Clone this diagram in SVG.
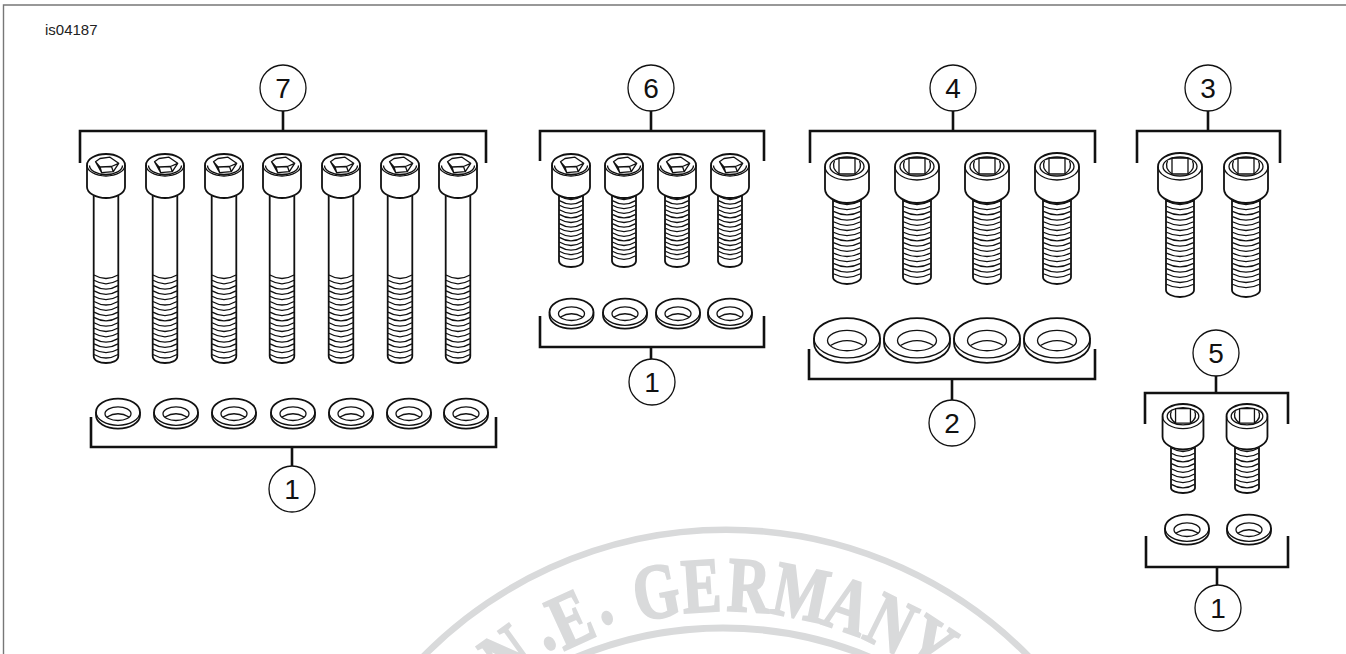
<svg xmlns="http://www.w3.org/2000/svg" xmlns:xlink="http://www.w3.org/1999/xlink" width="1346" height="654" viewBox="0 0 1346 654">
<style>
.ln{fill:#fff;stroke:#111;stroke-width:1.8;stroke-linejoin:round;vector-effect:non-scaling-stroke}
.th{fill:none;stroke:#111;stroke-width:1.25;vector-effect:non-scaling-stroke}
.in{fill:none;stroke:#111;stroke-width:1.3;stroke-linejoin:round;vector-effect:non-scaling-stroke}
.br{fill:none;stroke:#111;stroke-width:2.6}
.bub{fill:#fff;stroke:#111;stroke-width:1.3}
.num{font-family:"Liberation Sans",Arial,sans-serif;font-size:28px;fill:#111;text-anchor:middle}
.st{font-family:"Liberation Serif","Times New Roman",serif;font-weight:700;font-size:78px;fill:#d9dadb;stroke:#d9dadb;stroke-width:2.2;text-anchor:middle}
.ring{fill:none;stroke:#d9dadb}
</style>
<defs>
<g id="hx">
<path class="ln" d="M-19,11 A19,11 0 0 1 19,11 V33 C19,39 10,44 0,44 C-10,44 -19,39 -19,33 Z"/>
<path class="in" d="M-19,11 A19,11 0 0 0 19,11"/>
<path class="in" d="M-16.5,11.5 A16.5,9 0 0 0 16.5,11.5"/>
<path class="in" d="M-10.5,7.7 L-6,4.5 L4,3.2 L12.7,9.3 L7.3,17.7 L-4.3,18.7 Z M-10.5,7.7 L-6,13 L5.5,12.5 L12.7,9.3 M-6,13 L-4.3,18.7 M5.5,12.5 L7.3,17.7"/>
</g>
<g id="sq">
<path class="ln" d="M-22,13.5 A22,13.5 0 0 1 22,13.5 V36 C22,43 12,50 0,50 C-12,50 -22,43 -22,36 Z"/>
<path class="in" d="M-22,13.5 A22,13.5 0 0 0 22,13.5"/>
<path class="in" d="M-17,13.5 A17,9.5 0 0 1 17,13.5 A17,9.5 0 0 1 -17,13.5 Z"/>
<path class="in" d="M-12.5,8 Q-16,15 -8,21 M12.5,8 Q16,15 8,21"/>
<path class="in" d="M-8,5 L8,5 L8,21 L-8,21 Z"/>
</g>
<g id="ws">
<path class="ln" d="M-22,0 A22,13.3 0 0 1 22,0 V3.3 A22,13.3 0 0 1 -22,3.3 Z"/>
<path class="in" d="M-22,0 A22,13.3 0 0 0 22,0"/>
<path class="in" d="M-13,1.7 A13,6.8 0 0 1 13,1.7 A13,6.8 0 0 1 -13,1.7 Z"/>
<path class="in" d="M-11,5 Q0,-1.5 11,5"/>
</g>
<g id="b7">
<path class="ln" d="M-12.3,42 V202 C-12.3,207 -6,209 0,209 S12.3,207 12.3,202 V42"/>
<path class="th" d="M-12,121q12,7 24,0m-24,5.3q12,7 24,0m-24,5.3q12,7 24,0m-24,5.3q12,7 24,0m-24,5.3q12,7 24,0m-24,5.3q12,7 24,0m-24,5.3q12,7 24,0m-24,5.3q12,7 24,0m-24,5.3q12,7 24,0m-24,5.3q12,7 24,0m-24,5.3q12,7 24,0m-24,5.3q12,7 24,0m-24,5.3q12,7 24,0m-24,5.3q12,7 24,0m-24,5.3q12,7 24,0m-24,5.3q12,7 24,0"/>
<use href="#hx" xlink:href="#hx"/>
</g>
<g id="b6">
<path class="ln" d="M-12,42 V107 C-12,111 -6,113 0,113 S12,111 12,107 V42"/>
<path class="th" d="M-11.6,42q11.6,7 23.2,0m-23.2,4.6q11.6,7 23.2,0m-23.2,4.6q11.6,7 23.2,0m-23.2,4.6q11.6,7 23.2,0m-23.2,4.6q11.6,7 23.2,0m-23.2,4.6q11.6,7 23.2,0m-23.2,4.6q11.6,7 23.2,0m-23.2,4.6q11.6,7 23.2,0m-23.2,4.6q11.6,7 23.2,0m-23.2,4.6q11.6,7 23.2,0m-23.2,4.6q11.6,7 23.2,0m-23.2,4.6q11.6,7 23.2,0m-23.2,4.6q11.6,7 23.2,0m-23.2,4.6q11.6,7 23.2,0"/>
<use href="#hx" xlink:href="#hx"/>
</g>
<g id="b4">
<path class="ln" d="M-14,46 V124 C-14,128 -7,131 0,131 S14,128 14,124 V46"/>
<path class="th" d="M-13.6,48q13.6,7 27.2,0m-27.2,5.2q13.6,7 27.2,0m-27.2,5.2q13.6,7 27.2,0m-27.2,5.2q13.6,7 27.2,0m-27.2,5.2q13.6,7 27.2,0m-27.2,5.2q13.6,7 27.2,0m-27.2,5.2q13.6,7 27.2,0m-27.2,5.2q13.6,7 27.2,0m-27.2,5.2q13.6,7 27.2,0m-27.2,5.2q13.6,7 27.2,0m-27.2,5.2q13.6,7 27.2,0m-27.2,5.2q13.6,7 27.2,0m-27.2,5.2q13.6,7 27.2,0m-27.2,5.2q13.6,7 27.2,0m-27.2,5.2q13.6,7 27.2,0"/>
<use href="#sq" xlink:href="#sq"/>
</g>
<g id="b3">
<path class="ln" d="M-14,46 V137 C-14,141 -7,144 0,144 S14,141 14,137 V46"/>
<path class="th" d="M-13.6,48q13.6,7 27.2,0m-27.2,5.2q13.6,7 27.2,0m-27.2,5.2q13.6,7 27.2,0m-27.2,5.2q13.6,7 27.2,0m-27.2,5.2q13.6,7 27.2,0m-27.2,5.2q13.6,7 27.2,0m-27.2,5.2q13.6,7 27.2,0m-27.2,5.2q13.6,7 27.2,0m-27.2,5.2q13.6,7 27.2,0m-27.2,5.2q13.6,7 27.2,0m-27.2,5.2q13.6,7 27.2,0m-27.2,5.2q13.6,7 27.2,0m-27.2,5.2q13.6,7 27.2,0m-27.2,5.2q13.6,7 27.2,0m-27.2,5.2q13.6,7 27.2,0m-27.2,5.2q13.6,7 27.2,0m-27.2,5.2q13.6,7 27.2,0"/>
<use href="#sq" xlink:href="#sq"/>
</g>
<g id="b5">
<path class="ln" d="M-12,42 V84 C-12,87 -6,89 0,89 S12,87 12,84 V42"/>
<path class="th" d="M-11.6,44q11.6,7 23.2,0m-23.2,5.2q11.6,7 23.2,0m-23.2,5.2q11.6,7 23.2,0m-23.2,5.2q11.6,7 23.2,0m-23.2,5.2q11.6,7 23.2,0m-23.2,5.2q11.6,7 23.2,0m-23.2,5.2q11.6,7 23.2,0m-23.2,5.2q11.6,7 23.2,0"/>
<use href="#sq" xlink:href="#sq" transform="scale(.93 .91)"/>
</g>
</defs>
<g id="stamp">
<path class="ring" stroke-width="6.5" d="M416,664 A425,425 0 0 1 1036,664"/>
<path class="ring" stroke-width="7" d="M561,664 A382,382 0 0 1 885,664"/>
<text class="st" transform="rotate(-35.8 726 959) translate(726 611) scale(.75 1)">N</text>
<text class="st" transform="rotate(-29.2 726 959) translate(726 603) scale(.75 1)">.</text>
<text class="st" transform="rotate(-24.6 726 959) translate(726 611) scale(.75 1)">E</text>
<text class="st" transform="rotate(-19.2 726 959) translate(726 603) scale(.75 1)">.</text>
<text class="st" transform="rotate(-10.8 726 959) translate(726 611) scale(.75 1)">G</text>
<text class="st" transform="rotate(-3.8 726 959) translate(726 611) scale(.75 1)">E</text>
<text class="st" transform="rotate(3.5 726 959) translate(726 611) scale(.75 1)">R</text>
<text class="st" transform="rotate(11.6 726 959) translate(726 611) scale(.75 1)">M</text>
<text class="st" transform="rotate(19.1 726 959) translate(726 611) scale(.75 1)">A</text>
<text class="st" transform="rotate(26.2 726 959) translate(726 611) scale(.75 1)">N</text>
<text class="st" transform="rotate(33 726 959) translate(726 611) scale(.75 1)">Y</text>
</g>
<path id="frame" d="M3.5,654 V5 H1346" fill="none" stroke="#777" stroke-width="1.4"/>
<text id="figure-id" x="45" y="35" font-family="Liberation Sans,Arial,sans-serif" font-size="15" fill="#222">is04187</text>
<g id="connectors">
<path class="br" d="M80,163 V131 H486 V163 M283,131 V110"/>
<path class="br" d="M91,417 V447 H496 V417 M292,447 V467"/>
<path class="br" d="M540,161 V131 H764 V161 M651,131 V110"/>
<path class="br" d="M540,316 V347 H764 V316 M651,347 V360"/>
<path class="br" d="M810,163 V131 H1095 V163 M953,131 V110"/>
<path class="br" d="M809,349 V379 H1095 V349 M952,379 V401"/>
<path class="br" d="M1137,163 V131 H1280 V163 M1208,131 V110"/>
<path class="br" d="M1145,424 V393 H1288 V424 M1216,393 V375"/>
<path class="br" d="M1146,536 V567 H1288 V536 M1217,567 V586"/>
</g>
<g id="bolts-7">
<use id="bolt-7a" href="#b7" xlink:href="#b7" x="106" y="154"/>
<use id="bolt-7b" href="#b7" xlink:href="#b7" x="165" y="154"/>
<use id="bolt-7c" href="#b7" xlink:href="#b7" x="224" y="154"/>
<use id="bolt-7d" href="#b7" xlink:href="#b7" x="282" y="154"/>
<use id="bolt-7e" href="#b7" xlink:href="#b7" x="341" y="154"/>
<use id="bolt-7f" href="#b7" xlink:href="#b7" x="400" y="154"/>
<use id="bolt-7g" href="#b7" xlink:href="#b7" x="458" y="154"/>
</g>
<g id="bolts-6">
<use href="#b6" xlink:href="#b6" x="571" y="154"/>
<use href="#b6" xlink:href="#b6" x="624" y="154"/>
<use href="#b6" xlink:href="#b6" x="677" y="154"/>
<use href="#b6" xlink:href="#b6" x="730" y="154"/>
</g>
<g id="bolts-4">
<use href="#b4" xlink:href="#b4" x="847" y="153"/>
<use href="#b4" xlink:href="#b4" x="917" y="153"/>
<use href="#b4" xlink:href="#b4" x="987" y="153"/>
<use href="#b4" xlink:href="#b4" x="1057" y="153"/>
</g>
<g id="bolts-3">
<use href="#b3" xlink:href="#b3" x="1180" y="153"/>
<use href="#b3" xlink:href="#b3" x="1246" y="153"/>
</g>
<g id="bolts-5">
<use href="#b5" xlink:href="#b5" x="1183" y="404"/>
<use href="#b5" xlink:href="#b5" x="1247" y="404"/>
</g>
<g id="washers-1a">
<use href="#ws" xlink:href="#ws" x="118" y="412"/>
<use href="#ws" xlink:href="#ws" x="176" y="412"/>
<use href="#ws" xlink:href="#ws" x="234" y="412"/>
<use href="#ws" xlink:href="#ws" x="293" y="412"/>
<use href="#ws" xlink:href="#ws" x="351" y="412"/>
<use href="#ws" xlink:href="#ws" x="409" y="412"/>
<use href="#ws" xlink:href="#ws" x="466" y="412"/>
</g>
<g id="washers-1b">
<use href="#ws" xlink:href="#ws" x="571.5" y="312"/>
<use href="#ws" xlink:href="#ws" x="625" y="312"/>
<use href="#ws" xlink:href="#ws" x="678" y="312"/>
<use href="#ws" xlink:href="#ws" x="730" y="312"/>
</g>
<g id="washers-2">
<use href="#ws" xlink:href="#ws" transform="translate(847 338) scale(1.5)"/>
<use href="#ws" xlink:href="#ws" transform="translate(917 338) scale(1.5)"/>
<use href="#ws" xlink:href="#ws" transform="translate(987 338) scale(1.5)"/>
<use href="#ws" xlink:href="#ws" transform="translate(1057 338) scale(1.5)"/>
</g>
<g id="washers-1c">
<use href="#ws" xlink:href="#ws" x="1187" y="528"/>
<use href="#ws" xlink:href="#ws" x="1249" y="528"/>
</g>
<g id="callout-7"><circle class="bub" cx="283" cy="88" r="23"/><text class="num" x="283" y="98">7</text></g>
<g id="callout-6"><circle class="bub" cx="651" cy="88" r="23"/><text class="num" x="651" y="98">6</text></g>
<g id="callout-4"><circle class="bub" cx="953" cy="88" r="23"/><text class="num" x="953" y="98">4</text></g>
<g id="callout-3"><circle class="bub" cx="1208" cy="88" r="23"/><text class="num" x="1208" y="98">3</text></g>
<g id="callout-5"><circle class="bub" cx="1216" cy="353" r="23"/><text class="num" x="1216" y="363">5</text></g>
<g id="callout-1a"><circle class="bub" cx="292" cy="489" r="23"/><text class="num" x="292" y="499">1</text></g>
<g id="callout-1b"><circle class="bub" cx="652" cy="382" r="23"/><text class="num" x="652" y="392">1</text></g>
<g id="callout-2"><circle class="bub" cx="952" cy="423" r="23"/><text class="num" x="952" y="433">2</text></g>
<g id="callout-1c"><circle class="bub" cx="1218" cy="608" r="23"/><text class="num" x="1218" y="618">1</text></g>
</svg>
